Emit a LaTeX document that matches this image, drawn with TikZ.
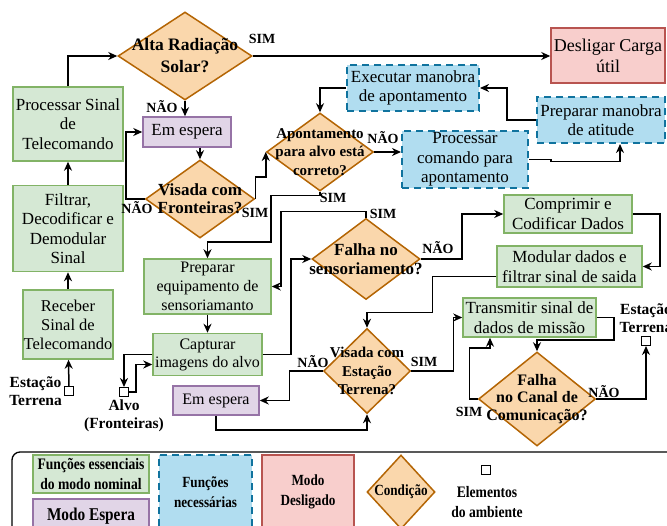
\documentclass[tikz,border=0pt]{standalone}
\usepackage{fontspec}
\setmainfont{Liberation Serif}
\newfontfamily\legfont[FakeStretch=0.85]{Liberation Serif}
\usetikzlibrary{shapes.geometric,arrows.meta,positioning}

\definecolor{essfill}{HTML}{D5E8D4}
\definecolor{essline}{HTML}{82B366}
\definecolor{espfill}{HTML}{E1D5E7}
\definecolor{espline}{HTML}{9673A6}
\definecolor{necfill}{HTML}{B1DDF0}
\definecolor{necline}{HTML}{10739E}
\definecolor{deslfill}{HTML}{F8CECC}
\definecolor{deslline}{HTML}{B85450}
\definecolor{condfill}{HTML}{FAD7AC}
\definecolor{condline}{HTML}{B46504}

\tikzset{
    box/.style={rectangle, draw, line width=1.5pt, inner sep=0pt, align=center,
        font=\fontsize{17}{19.5}\selectfont},
    ess/.style={box, fill=essfill, draw=essline},
    espera/.style={box, fill=espfill, draw=espline},
    nec/.style={box, fill=necfill, draw=necline, dash pattern=on 7pt off 5pt, line width=2pt},
    desl/.style={box, fill=deslfill, draw=deslline, font=\fontsize{18}{21}\selectfont},
    cond/.style={diamond, draw=condline, fill=condfill, line width=1.5pt, inner sep=0pt},
    ctext/.style={align=center, inner sep=0pt, font=\bfseries\fontsize{17}{19}\selectfont},
    amb/.style={rectangle, draw, line width=1pt, fill=white, minimum size=9pt, inner sep=0pt},
    ambtext/.style={align=center, inner sep=0pt, font=\bfseries\fontsize{15.5}{18}\selectfont},
    lbl/.style={inner sep=0pt, font=\bfseries\fontsize{14}{16}\selectfont},
    legtext/.style={font=\legfont\bfseries\fontsize{15.5}{20}\selectfont},
    conn/.style={-{Stealth[length=9pt,width=8pt]}, line width=1.5pt},
}

\begin{document}
\begin{tikzpicture}[x=1pt, y=-1pt]
    \useasboundingbox (0,0) rectangle (667,526);

    % Define nodes
    \node[amb]							(esta)		at (69,391) {};
    \node[ambtext, left = 2pt of esta]				(estatxt)	{Estação\\Terrena};
    \node[ess, minimum width=90, minimum height=69, font=\fontsize{16.5}{19}\selectfont]
                                        (receb)		at (68,324.5) {Receber\\Sinal de\\Telecomando};
    \node[ess, minimum width=110, minimum height=86, above = 17pt of receb]
                                        (filt)		{Filtrar,\\Decodificar e\\Demodular\\Sinal};
    \node[ess, minimum width=110, minimum height=74, above = 23pt of filt]
                                        (proc)		{Processar Sinal\\de\\Telecomando};
    \node[cond, minimum width=134, minimum height=88,
        label={[ctext, font=\bfseries\fontsize{17.5}{22}\selectfont]center:{Alta Radiação\\Solar?}}]
                                        (alta)		at (185,56) {};
    \node[desl, minimum width=114, minimum height=55]	(desl)		at (608,55.5) {Desligar Carga\\útil};
    \node[espera, minimum width=88, minimum height=30]	(esp1)		at (187,132) {Em espera};
    \node[cond, minimum width=109, minimum height=78,
        label={[ctext, font=\bfseries\fontsize{17}{18}\selectfont]center:{Visada com\\Fronteiras?}}]
                                        (visf)		at (200,199) {};
    \node[cond, minimum width=107, minimum height=78,
        label={[ctext, font=\bfseries\fontsize{15}{18.5}\selectfont]center:{Apontamento\\para alvo está\\correto?}}]
                                        (apont)		at (320,152) {};
    \node[nec, minimum width=132, minimum height=46]	(exec)		at (413,88) {Executar manobra\\de apontamento};
    \node[nec, minimum width=128, minimum height=46]	(prepm)		at (601,120) {Preparar manobra\\de atitude};
    \node[nec, minimum width=126, minimum height=57]	(procc)		at (465,159.5) {Processar\\comando para\\apontamento};
    \node[ess, minimum width=127, minimum height=55, font=\fontsize{16}{19}\selectfont]
                                        (prepe)		at (207.5,286.5) {Preparar\\equipamento de\\sensoriamanto};
    \node[ess, minimum width=109, minimum height=42, font=\fontsize{16}{18}\selectfont, below = 18pt of prepe]
                                        (capt)		{Capturar\\imagens do alvo};
    \node[amb]							(alvo)		at (124,392) {};
    \node[ambtext, below = 3pt of alvo]			(alvotxt)	{Alvo\\(Fronteiras)};
    \node[cond, minimum width=108, minimum height=81,
        label={[ctext]center:{Falha no\\sensoriamento?}}]
                                        (fals)		at (366,259) {};
    \node[ess, minimum width=128, minimum height=38]	(compr)		at (568,214) {Comprimir e\\Codificar Dados};
    \node[ess, minimum width=145, minimum height=41]	(modul)		at (569.5,266.5) {Modular dados e\\filtrar sinal de saida};
    \node[cond, minimum width=87, minimum height=85,
        label={[ctext, font=\bfseries\fontsize{15}{18.5}\selectfont]center:{Visada com\\Estação\\Terrena?}}]
                                        (vise)		at (367,371) {};
    \node[espera, minimum width=86, minimum height=29, font=\fontsize{16}{19}\selectfont]
                                        (esp2)		at (216,400.5) {Em espera};
    \node[ess, minimum width=133, minimum height=39]	(trans)		at (529.5,317.5) {Transmitir sinal de\\dados de missão};
    \node[cond, minimum width=117, minimum height=94,
        label={[ctext, font=\bfseries\fontsize{16}{17.5}\selectfont]center:{Falha\\no Canal de\\Comunicação?}}]
                                        (falc)		at (537,399) {};
    \node[amb]							(estb)		at (646,341) {};
    \node[ambtext, above = 3pt of estb]			(estbtxt)	{Estação\\Terrena};

    % Connect nodes
    \draw[conn] (esta) -- (receb);
    \draw[conn] (receb) -- (filt);
    \draw[conn] (filt) -- (proc);
    \draw[conn] (proc.north) |- (alta.west);
    \draw[conn] (alta.east) -- (alta.east -| desl.west);
    \draw[conn] (alta.south) -- (alta.south |- esp1.north);
    \draw[conn] (visf.north |- esp1.south) -- (visf.north);
    \draw[conn] (visf.west) -- ++(-19,0) |- (esp1.west);
    \draw[conn] (visf.east) -- ++(0,-22) -| (apont.west);
    \draw[conn] (apont.east) -- (apont.east -| procc.west);
    \draw[conn] (exec.west) -| (apont.north);
    \draw[conn] (prepm.west) -- ++(-29,0) |- (exec.east);
    \draw[conn] (procc.east) -- ++(22,0) -- ++(0,2) -| ([xshift=19pt]prepm.south);
    \draw[conn] (apont.south) -- ++(0,4) -| (271,242) -| (prepe.north);
    \draw[conn] (fals.north) -- ++(0,-6) -| ([xshift=9pt]prepe.east) -- (prepe.east);
    \draw[conn] (prepe) -- (capt);
    \draw[conn] (capt.east) -- ++(28,0) |- (fals.west);
    \draw[conn] (capt.west) -| (alvo.north);
    \draw[conn] (alvo.east) -- ++(7,0) |- ([shift={(0,10)}]capt.west);
    \draw[conn] (fals.east) -- ++(41,0) |- (compr.west);
    \draw[conn] (compr.east) -- ++(27,0) |- (modul.east);
    \draw[conn] ([shift={(0,10)}]modul.west) -- ++(-64,0) -- ++(0,36) -| (vise.north);
    \draw[conn] (vise.west) -- ++(-33.5,0) |- (esp2.east);
    \draw[conn] (esp2.south) -- ++(0,14.5) -| (vise.south);
    \draw[conn] (vise.east) -- ++(42,0) |- (trans.west);
    \draw[conn] (trans.east) -- ++(17,0) -- ++(0,22.5) -| (falc.north);
    \draw[conn] (falc.west) -- ++(-8.5,0) -- ++(0,-51) -| ([shift={(-39.5,0)}]trans.south);
    \draw[conn] (falc.east) -| (estb.south);

    % add labels
    \node[lbl] (simalta)	at (262,39)	{SIM};
    \node[lbl] (naoalta)	at (162,107)	{NÃO};
    \node[lbl] (naovisf)	at (137,208)	{NÃO};
    \node[lbl] (simvisf)	at (255,213)	{SIM};
    \node[lbl] (naoapont)	at (383,138)	{NÃO};
    \node[lbl] (simapont)	at (333,198)	{SIM};
    \node[lbl] (simfals)	at (383,214)	{SIM};
    \node[lbl] (naofals)	at (438,248)	{NÃO};
    \node[lbl] (naovise)	at (313,362)	{NÃO};
    \node[lbl] (simvise)	at (424,362)	{SIM};
    \node[lbl] (simfalc)	at (469,412)	{SIM};
    \node[lbl] (naofalc)	at (604,392)	{NÃO};

    % add legend
    \draw[line width=1.3pt, rounded corners=8pt] (12,452) rectangle (700,560);
    \node[ess, legtext, font=\legfont\bfseries\fontsize{16}{20}\selectfont, minimum width=116, minimum height=38]
                                        (legess)	at (91,474) {Funções essenciais\\do modo nominal};
    \node[espera, legtext, font=\legfont\bfseries\fontsize{18}{20}\selectfont, minimum width=116, minimum height=34]
                                        (legesp)	at (91,516) {Modo Espera};
    \node[nec, legtext, minimum width=93, minimum height=74]	(legnec)	at (205.5,492) {Funções\\necessárias};
    \node[desl, legtext, minimum width=92, minimum height=74]	(legdesl)	at (308,492) {Modo\\Desligado};
    \node[cond, minimum width=68, minimum height=74,
        label={[ctext, font=\legfont\bfseries\fontsize{15.5}{18}\selectfont]center:{Condição}}]
                                        (legcond)	at (401,492) {};
    \node[amb]							(legamb)	at (486,470) {};
    \node[ambtext, legtext, font=\legfont\bfseries\fontsize{16}{20}\selectfont]
                                        (legambtxt)	at (487,502) {Elementos\\do ambiente};
\end{tikzpicture}
\end{document}
